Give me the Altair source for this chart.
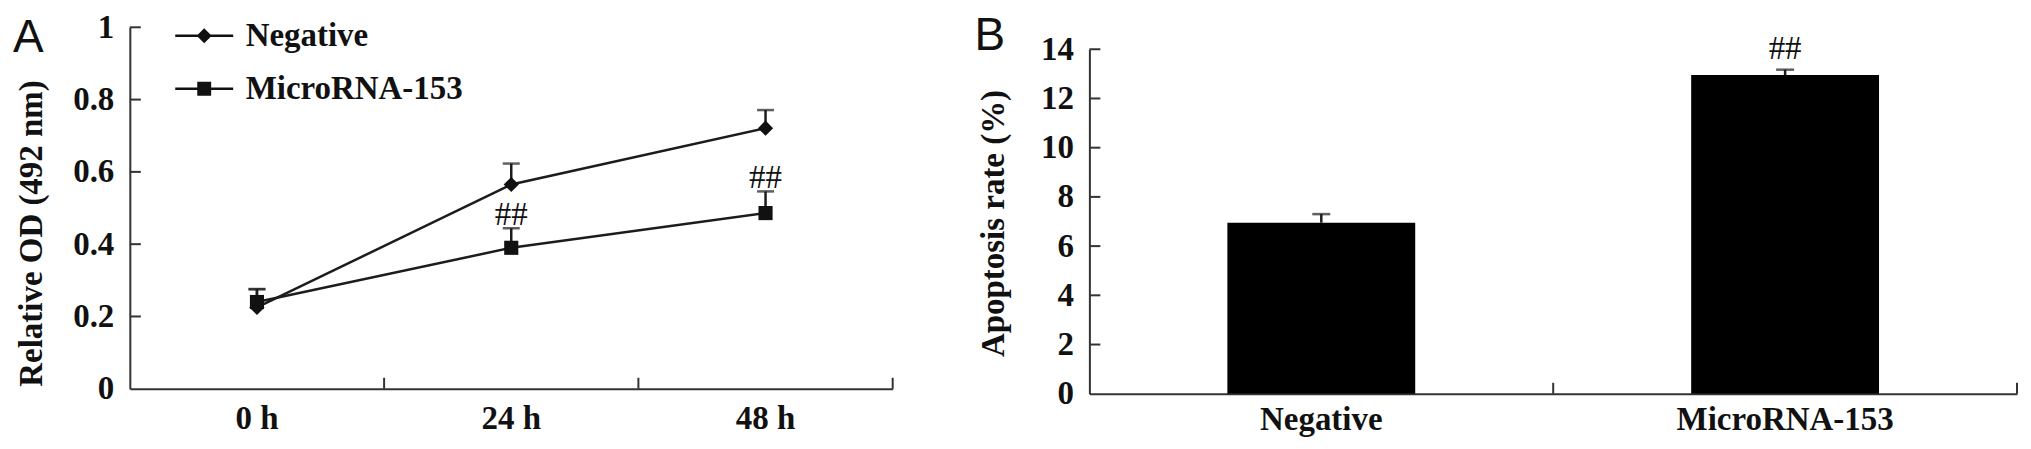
import altair as alt
import pandas as pd

# ---------------- data ----------------
time_points = ["0 h", "24 h", "48 h"]
series_names = ["Negative", "MicroRNA-153"]
od_negative = [0.225, 0.565, 0.721]
od_negative_sd = [0.05, 0.058, 0.05]
od_mirna = [0.24, 0.39, 0.486]
od_mirna_sd = [0.036, 0.054, 0.06]
od_sig = ["", "##", "##"]
od_ticks = [0, 0.2, 0.4, 0.6, 0.8, 1]

groups = ["Negative", "MicroRNA-153"]
apoptosis = [6.95, 12.95]
apoptosis_sd = [0.35, 0.22]
apoptosis_sig = ["", "##"]
apoptosis_ticks = [0, 2, 4, 6, 8, 10, 12, 14]

# ---------------- style ----------------
SERIF = "Liberation Serif"
SANS = "Liberation Sans"
INK = "#1c1c1c"
AX = "#333333"
FS = 33
W_A, H_A = 764, 362
W_B, H_B = 929, 367
B_TOP = 22
PAD_IN, PAD_OUT = 0.595, 0.2975

rows = []
for s, means, sds in [("Negative", od_negative, od_negative_sd),
                      ("MicroRNA-153", od_mirna, od_mirna_sd)]:
    for t, m, sd in zip(time_points, means, sds):
        rows.append({"time": t, "series": s, "mean": m, "upper": m + sd})
df_a = pd.DataFrame(rows)
sig_a = pd.DataFrame({"time": time_points,
                      "upper": [m + sd for m, sd in zip(od_mirna, od_mirna_sd)],
                      "sig": od_sig})
sig_a = sig_a[sig_a["sig"] != ""]
ticks_a_y = pd.DataFrame({"v": od_ticks[1:]})
ticks_a_x = pd.DataFrame({"time": time_points})

df_b = pd.DataFrame({"group": groups, "value": apoptosis,
                     "upper": [v + s for v, s in zip(apoptosis, apoptosis_sd)],
                     "sig": apoptosis_sig})
ticks_b_y = pd.DataFrame({"v": apoptosis_ticks[1:]})
# category boundaries, in band units
ticks_b_x = pd.DataFrame({"b": [i + 1 for i in range(len(groups))]})

# ---------------- panel A ----------------
xa_scale = alt.Scale(domain=time_points, paddingInner=0, paddingOuter=0)
ya_scale = alt.Scale(domain=[0, 1], nice=False)

xa = alt.X("time:N", sort=time_points, scale=xa_scale,
           axis=alt.Axis(title=None, labelAngle=0, ticks=False, tickSize=0, labelPadding=14))
ya = alt.Y("mean:Q", scale=ya_scale,
           axis=alt.Axis(values=od_ticks, format="~g", title="Relative OD (492 nm)",
                         ticks=False, tickSize=0, grid=False, labelPadding=16,
                         titlePadding=24, titleY=206))
xs = alt.X("time:N", sort=time_points)

base_a = alt.Chart(df_a)
line_a = base_a.mark_line(color=INK, strokeWidth=2.5).encode(
    x=xa, y=ya, detail="series:N")
err_a = base_a.mark_rule(color=INK, strokeWidth=2.5).encode(x=xs, y="mean:Q", y2="upper:Q")
cap_a = base_a.mark_tick(color=INK, thickness=2.5, size=17).encode(x=xs, y="upper:Q")
pts_neg = base_a.transform_filter(alt.datum.series == series_names[0]).mark_point(
    filled=True, opacity=1, color="#111111", shape="diamond", size=230).encode(x=xs, y="mean:Q")
pts_mir = base_a.transform_filter(alt.datum.series == series_names[1]).mark_point(
    filled=True, opacity=1, color="#111111", shape="square", size=200).encode(x=xs, y="mean:Q")

# legend glyphs: a short line with the series marker in its middle (filled shapes only)
legend_paths = [
    "M-2,-0.086L2,-0.086L2,0.086L-2,0.086Z M0,-0.52L0.52,0L0,0.52L-0.52,0Z",
    "M-2,-0.086L2,-0.086L2,0.086L-2,0.086Z M-0.48,-0.48L0.48,-0.48L0.48,0.48L-0.48,0.48Z",
]
leg_a = base_a.transform_filter("false").mark_point(
    filled=True, color="#111111", size=841, opacity=1).encode(
    x=xs, y="mean:Q",
    shape=alt.Shape("series:N", scale=alt.Scale(domain=series_names, range=legend_paths),
                    legend=alt.Legend(title=None, orient="none", legendX=58, legendY=-8,
                                      padding=0, labelOffset=25, rowPadding=19, labelLimit=500,
                                      labelFont=SERIF, labelFontSize=FS, labelFontWeight="bold",
                                      labelColor="#111111", symbolFillColor="#111111",
                                      symbolSize=841, symbolOpacity=1)))
sig_text_a = alt.Chart(sig_a).mark_text(font=SERIF, fontSize=FS, fontWeight="normal",
                                        color="#111111", baseline="middle", dy=-13).encode(
    x=xs, y="upper:Q", text="sig:N")
ytick_a = alt.Chart(ticks_a_y).mark_rule(color=AX, strokeWidth=2).encode(
    y="v:Q", x=alt.value(0), x2=alt.value(11))
xtick_a = alt.Chart(ticks_a_x).mark_rule(color=AX, strokeWidth=2).encode(
    x=alt.X("time:N", sort=time_points, bandPosition=1), y=alt.value(H_A), y2=alt.value(H_A - 11))

panel_a = alt.layer(line_a, err_a, cap_a, pts_neg, pts_mir, leg_a, sig_text_a, ytick_a, xtick_a).properties(
    width=W_A, height=H_A,
    title=alt.TitleParams("A", anchor="start", frame="group", font=SANS, fontSize=46,
                          fontWeight="normal", color="#111111", dx=-117, dy=51, offset=0))

# ---------------- panel B ----------------
xb_scale = alt.Scale(domain=groups, paddingInner=PAD_IN, paddingOuter=PAD_OUT)
yb_scale = alt.Scale(domain=[0, 14], nice=False, range=[H_B, B_TOP])

xb = alt.X("group:N", sort=groups, scale=xb_scale,
           axis=alt.Axis(title=None, labelAngle=0, ticks=False, tickSize=0, labelPadding=10,
                         labelLimit=500))
yb = alt.Y("value:Q", scale=yb_scale,
           axis=alt.Axis(values=apoptosis_ticks, title="Apoptosis rate (%)",
                         ticks=False, tickSize=0, grid=False, labelPadding=16,
                         titlePadding=30, titleY=196))
xbs = alt.X("group:N", sort=groups)

base_b = alt.Chart(df_b)
bars_b = base_b.mark_bar(color="#000000").encode(x=xb, y=yb)
err_b = base_b.mark_rule(color=INK, strokeWidth=2.5).encode(x=xbs, y="value:Q", y2="upper:Q")
cap_b = base_b.mark_tick(color=INK, thickness=2.5, size=18).encode(x=xbs, y="upper:Q")
sig_text_b = base_b.transform_filter("datum.sig != ''").mark_text(
    font=SERIF, fontSize=FS, fontWeight="normal", color="#111111", baseline="middle", dy=-21).encode(
    x=xbs, y="upper:Q", text="sig:N")
ytick_b = alt.Chart(ticks_b_y).mark_rule(color=AX, strokeWidth=2).encode(
    y="v:Q", x=alt.value(0), x2=alt.value(11))
xtick_b = alt.Chart(ticks_b_x).mark_rule(color=AX, strokeWidth=2).encode(
    x=alt.X("b:Q", scale=alt.Scale(domain=[0, len(groups)], nice=False, zero=True), axis=None),
    y=alt.value(H_B), y2=alt.value(H_B - 11))

inner_b = alt.layer(bars_b, err_b, cap_b, sig_text_b, ytick_b)
panel_b = alt.layer(inner_b, xtick_b).resolve_scale(x="independent").properties(
    width=W_B, height=H_B,
    title=alt.TitleParams("B", anchor="start", frame="group", font=SANS, fontSize=46,
                          fontWeight="normal", color="#111111", dx=-115, dy=33, offset=0))

chart = alt.hconcat(panel_a, panel_b, spacing=197, bounds="flush").properties(
    padding={"left": 5, "top": 3, "right": 5, "bottom": 3}
).configure_view(strokeWidth=0).configure_axis(
    labelFont=SERIF, labelFontSize=FS, labelFontWeight="bold", labelColor="#111111",
    titleFont=SERIF, titleFontSize=FS, titleFontWeight="bold", titleColor="#111111",
    domainColor=AX, domainWidth=2
).configure_title(baseline="alphabetic")

chart.save("out.html", embed_options={"renderer": "svg", "actions": False})
